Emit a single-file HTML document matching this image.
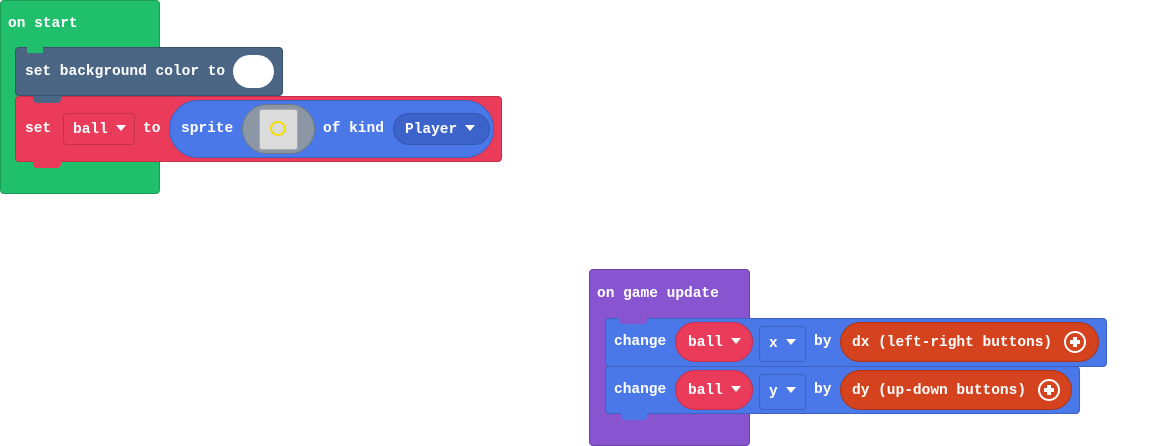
<!DOCTYPE html><html><head><style>
body{margin:0;width:1158px;height:446px;background:#fff;position:relative;overflow:hidden;font-family:"Liberation Mono",monospace;font-weight:bold;font-size:14.5px;color:#fff}
div{position:absolute;box-sizing:border-box}
.t{white-space:nowrap;line-height:18px}
.dd::after{content:"";display:inline-block;margin-left:8px;border-left:5px solid transparent;border-right:5px solid transparent;border-top:6px solid #fff;vertical-align:2px}
.plus{width:22px;height:22px;border:2px solid #fff;border-radius:50%}
.plus::before{content:"";position:absolute;left:4px;top:7px;width:10px;height:4px;background:#fff}
.plus::after{content:"";position:absolute;left:7px;top:4px;width:4px;height:10px;background:#fff}
</style></head><body>
<!-- on start -->
<div style="left:0;top:0;width:160px;height:194px;background:#20bf6b;border:1px solid #1a9c57;border-radius:4px"></div>
<div class="t" style="left:8px;top:15px">on start</div>
<div style="left:15px;top:47px;width:268px;height:49px;background:#4b6584;border:1px solid #3c516a;border-radius:4px"></div>
<div style="left:27px;top:47px;width:16px;height:6px;background:#20bf6b"></div>
<div class="t" style="left:25px;top:63px">set background color to</div>
<div style="left:233px;top:55px;width:41px;height:33px;background:#fff;border-radius:17px"></div>
<div style="left:15px;top:96px;width:487px;height:66px;background:#eb3b5a;border:1px solid #c42f4a;border-radius:4px"></div>
<div style="left:33px;top:96px;width:28px;height:7px;background:#4b6584;border-radius:0 0 4px 4px"></div>
<div style="left:33px;top:161px;width:28px;height:7px;background:#eb3b5a;border-radius:0 0 4px 4px"></div>
<div class="t" style="left:25px;top:120px">set</div>
<div class="t dd" style="left:63px;top:113px;width:72px;height:32px;border:1px solid #c42f4a;border-radius:4px;padding:7px 0 0 9px">ball</div>
<div class="t" style="left:143px;top:120px">to</div>
<div style="left:169px;top:100px;width:325px;height:58px;background:#4a78e8;border:1px solid #3b62c0;border-radius:29px"></div>
<div class="t" style="left:181px;top:120px">sprite</div>
<div style="left:242px;top:104px;width:73px;height:50px;background:#8c97a6;border:1px solid #6f7a88;border-radius:25px"></div>
<div style="left:259px;top:109px;width:39px;height:41px;background:#dcdcdc;border:1px solid #aaa;border-radius:3px"></div>
<div style="left:270px;top:121px;width:16px;height:15px;border:2px solid #f0e000;border-radius:50%"></div>
<div class="t" style="left:323px;top:120px">of kind</div>
<div class="t dd" style="left:393px;top:113px;width:97px;height:32px;background:#3c63c9;border:1px solid #3455b0;border-radius:16px;padding:7px 0 0 11px">Player</div>
<!-- on game update -->
<div style="left:589px;top:269px;width:161px;height:177px;background:#8854d0;border:1px solid #6d42a8;border-radius:4px"></div>
<div class="t" style="left:597px;top:285px">on game update</div>
<div style="left:605px;top:318px;width:502px;height:49px;background:#4a78e8;border:1px solid #3b62c0;border-radius:4px"></div>
<div style="left:619px;top:318px;width:28px;height:6px;background:#8854d0;border-radius:0 0 4px 4px"></div>
<div style="left:605px;top:366px;width:475px;height:48px;background:#4a78e8;border:1px solid #3b62c0;border-radius:4px"></div>
<div style="left:621px;top:413px;width:26px;height:7px;background:#4a78e8;border-radius:0 0 4px 4px"></div>
<div class="t" style="left:614px;top:333px">change</div>
<div class="t dd" style="left:675px;top:322px;width:78px;height:40px;background:#eb3b5a;border:1px solid #c42f4a;border-radius:20px;padding:11px 0 0 12px">ball</div>
<div class="t dd" style="left:759px;top:326px;width:47px;height:36px;border:1px solid #3b62c0;border-radius:4px;padding:8px 0 0 9px">x</div>
<div class="t" style="left:814px;top:333px">by</div>
<div class="t" style="left:840px;top:322px;width:259px;height:40px;background:#d4421e;border:1px solid #a8341a;border-radius:20px;padding:11px 0 0 11px">dx (left-right buttons)</div>
<div class="plus" style="left:1064px;top:331px"></div>
<div class="t" style="left:614px;top:381px">change</div>
<div class="t dd" style="left:675px;top:370px;width:78px;height:40px;background:#eb3b5a;border:1px solid #c42f4a;border-radius:20px;padding:11px 0 0 12px">ball</div>
<div class="t dd" style="left:759px;top:374px;width:47px;height:36px;border:1px solid #3b62c0;border-radius:4px;padding:8px 0 0 9px">y</div>
<div class="t" style="left:814px;top:381px">by</div>
<div class="t" style="left:840px;top:370px;width:232px;height:40px;background:#d4421e;border:1px solid #a8341a;border-radius:20px;padding:11px 0 0 11px">dy (up-down buttons)</div>
<div class="plus" style="left:1038px;top:379px"></div>
</body></html>
